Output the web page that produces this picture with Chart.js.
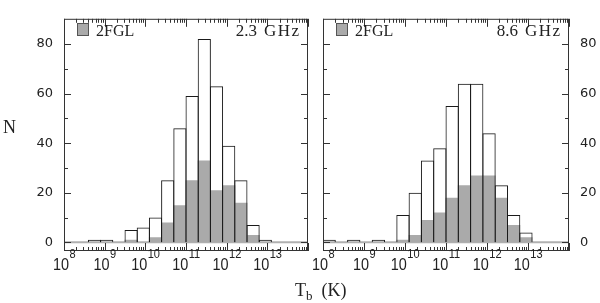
<!DOCTYPE html>
<html>
<head>
<meta charset="utf-8">
<script src="https://cdn.jsdelivr.net/npm/chart.js@4"></script>
<style>
  body { margin: 0; background: #fff; }
  #wrap { position: relative; width: 600px; height: 303px; overflow: hidden; }
  canvas { position: absolute; top: 0; }
  .lbl { position: absolute; font-family: "Liberation Serif", "DejaVu Serif", serif; color: #222; white-space: nowrap; line-height: 18px; }
  .lbl .sub { position: relative; top: 4px; font-size: 13px; }
</style>
</head>
<body>
<div id="wrap">
  <canvas id="left" width="310" height="303" style="left:0"></canvas>
  <canvas id="right" width="290" height="303" style="left:310px"></canvas>
  <div class="lbl" style="left:3px;top:118px;font-size:18px">N</div>
  <div class="lbl" style="left:295px;top:281px;font-size:18px">T<span class="sub">b</span>&nbsp;&nbsp;(K)</div>
</div>
<script>
// bins de 0.3 dex, centros en log10(Tb)
const binCenters = [8.15, 8.45, 8.75, 9.05, 9.35, 9.65, 9.95, 10.25, 10.55, 10.85, 11.15, 11.45, 11.75, 12.05, 12.35, 12.65, 12.95];

// 2.3 GHz
const total23 = [0, 0, 1, 1, 0, 5, 6, 10, 25, 46, 59, 82, 63, 39, 25, 7, 1];
const fgl23   = [0, 0, 0, 0, 0, 1, 0, 2, 8, 15, 25, 33, 21, 23, 16, 3, 0];

// 8.6 GHz
const total86 = [1, 0, 1, 0, 1, 0, 11, 20, 33, 38, 55, 64, 64, 44, 23, 11, 4];
const fgl86   = [0, 0, 0, 0, 0, 0, 1, 3, 9, 12, 18, 23, 27, 27, 18, 7, 2];

const decades = [8, 9, 10, 11, 12, 13, 14];
const decadeLabels = ["8", "9", "10", "11", "12", "13"];
const yTicks = [0, 20, 40, 60, 80];
const yMinor = [10, 30, 50, 70, 90];
const legendLabel = "2FGL";

const GREY = "#aaaaaa";
const INK = "#222";

function toPoints(vals) {
  return binCenters.map((x, i) => ({ x: x, y: vals[i] > 0 ? vals[i] : null }));
}

function drawPow(ctx, cx, base, exp) {
  const sx = 0.85;
  ctx.font = '17px "Liberation Sans", Arial, sans-serif';
  const wb = ctx.measureText(base).width;
  ctx.font = '13px "Liberation Sans", Arial, sans-serif';
  const we = ctx.measureText(exp).width;
  const w = (wb + we) * sx;
  ctx.save();
  ctx.translate(cx - w / 2, 270);
  ctx.scale(sx, 1);
  ctx.textAlign = "left";
  ctx.textBaseline = "alphabetic";
  ctx.font = '17px "Liberation Sans", Arial, sans-serif';
  ctx.fillText(base, 0, 0);
  ctx.font = '13px "Liberation Sans", Arial, sans-serif';
  ctx.fillText(exp, wb + 0.5, -12);
  ctx.restore();
}

// marco, ticks hacia dentro, etiquetas del eje x y leyenda
const panelDecor = {
  id: "panelDecor",
  beforeDatasetsDraw(chart) {
    const { ctx, chartArea: a, scales } = chart;
    const y0 = scales.y.getPixelForValue(0);
    ctx.save();
    ctx.strokeStyle = "#b0b0b0";
    ctx.lineWidth = 2;
    ctx.beginPath();
    ctx.moveTo(a.left, y0);
    ctx.lineTo(a.right, y0);
    ctx.stroke();
    ctx.restore();
  },
  afterDraw(chart, args, opts) {
    const { ctx, chartArea: a, scales } = chart;
    const x = scales.x, y = scales.y;
    ctx.save();
    ctx.strokeStyle = "#333";
    ctx.lineWidth = 1;
    ctx.strokeRect(a.left + 0.5, a.top + 0.5, a.right - a.left - 1, a.bottom - a.top - 1);

    ctx.beginPath();
    // eje y: ambos lados
    yTicks.concat(yMinor).forEach((v) => {
      const len = yTicks.includes(v) ? 7 : 4;
      const py = Math.round(y.getPixelForValue(v)) + 0.5;
      if (py < a.top + 1 || py > a.bottom - 1) return;
      ctx.moveTo(a.left, py); ctx.lineTo(a.left + len, py);
      ctx.moveTo(a.right, py); ctx.lineTo(a.right - len, py);
    });
    // eje x logaritmico: arriba y abajo
    decades.forEach((d) => {
      const px = Math.round(x.getPixelForValue(d)) + 0.5;
      ctx.moveTo(px, a.bottom); ctx.lineTo(px, a.bottom - 8);
      ctx.moveTo(px, a.top); ctx.lineTo(px, a.top + 8);
      if (d === 14) return;
      for (let k = 2; k <= 9; k++) {
        const mx = Math.round(x.getPixelForValue(d + Math.log10(k))) + 0.5;
        ctx.moveTo(mx, a.bottom); ctx.lineTo(mx, a.bottom - 4);
        ctx.moveTo(mx, a.top); ctx.lineTo(mx, a.top + 4);
      }
    });
    ctx.stroke();

    ctx.fillStyle = INK;
    decadeLabels.forEach((lab, i) => {
      drawPow(ctx, x.getPixelForValue(decades[i]), "10", lab);
    });

    // leyenda
    ctx.fillStyle = GREY;
    ctx.fillRect(a.left + 13, 23, 12, 13);
    ctx.strokeStyle = "#555";
    ctx.strokeRect(a.left + 13.5, 23.5, 11, 12);
    ctx.fillStyle = INK;
    ctx.font = '16px "Liberation Serif", "DejaVu Serif", serif';
    ctx.textAlign = "left";
    ctx.textBaseline = "alphabetic";
    ctx.fillText(legendLabel, a.left + 32, 36);

    // frecuencia: numero compacto, unidad algo espaciada
    const [num, unit] = opts.freq.split(" ");
    ctx.font = '17px "Liberation Serif", "DejaVu Serif", serif';
    ctx.letterSpacing = "1.5px";
    const wu = ctx.measureText(unit).width - 1.5;
    const ux = a.right - 9 - wu;
    ctx.fillText(unit, ux, 36);
    ctx.letterSpacing = "0px";
    const wn = ctx.measureText(num).width;
    ctx.fillText(num, ux - 7 - wn, 36);
    ctx.restore();
  }
};

function makePanel(id, totals, fgl, freq, side, padding, axisW) {
  return new Chart(document.getElementById(id), {
    type: "bar",
    data: {
      datasets: [
        {
          label: "all",
          data: toPoints(totals),
          backgroundColor: "rgba(0,0,0,0)",
          borderColor: "#1a1a1a",
          borderWidth: 1,
          borderSkipped: "start",
          grouped: false,
          order: 0,
          barPercentage: 1.08,
          categoryPercentage: 1
        },
        {
          label: legendLabel,
          data: toPoints(fgl),
          backgroundColor: GREY,
          borderWidth: 0,
          grouped: false,
          order: 1,
          barPercentage: 1.08,
          categoryPercentage: 1
        }
      ]
    },
    options: {
      responsive: false,
      animation: false,
      devicePixelRatio: 1,
      layout: { padding: padding },
      plugins: {
        legend: { display: false },
        tooltip: { enabled: false },
        panelDecor: { freq: freq }
      },
      scales: {
        x: {
          type: "linear",
          min: 8,
          max: 14,
          offset: false,
          display: false
        },
        y: {
          min: -3.5,
          max: 90.2,
          position: side,
          afterBuildTicks: (s) => { s.ticks = yTicks.map((v) => ({ value: v })); },
          afterFit: (s) => { s.width = axisW; },
          grid: { display: false, drawTicks: false },
          border: { display: false },
          ticks: {
            padding: 11,
            color: INK,
            font: { family: "DejaVu Sans", size: 13 }
          }
        }
      }
    },
    plugins: [panelDecor]
  });
}

makePanel("left", total23, fgl23, "2.3 GHz", "left", { left: 0, right: 2, top: 5, bottom: 52 }, 64);
makePanel("right", total86, fgl86, "8.6 GHz", "right", { left: 13, right: 0, top: 5, bottom: 52 }, 31);
</script>
</body>
</html>
